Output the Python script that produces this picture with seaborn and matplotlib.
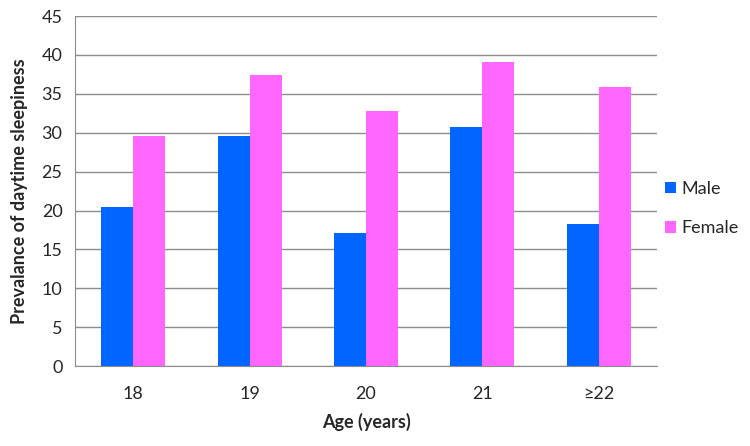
import pandas as pd
import seaborn as sns
import matplotlib.pyplot as plt

# Data
ages = ['18', '19', '20', '21', '≥22']
male = [20.5, 29.6, 17.1, 30.7, 18.3]
female = [29.6, 37.4, 32.8, 39.1, 35.9]

df = pd.DataFrame({'age': ages * 2,
                   'sex': ['Male'] * len(ages) + ['Female'] * len(ages),
                   'value': male + female})

sns.set_style('white')
plt.rcParams['font.family'] = ['Lato', 'DejaVu Sans']

fig = plt.figure(figsize=(7.5, 4.46), dpi=100)
ax = fig.add_axes([0.1, 0.179, 0.776, 0.785])

sns.barplot(data=df, x='age', y='value', hue='sex', order=ages,
            palette={'Male': '#0066ff', 'Female': '#ff66ff'},
            width=0.55, saturation=1, linewidth=0, ax=ax, zorder=3)

ax.set_ylim(0, 45)
ax.set_yticks(range(0, 46, 5))
ax.yaxis.grid(True, color='#8c8c8c', linewidth=1, zorder=0)
ax.set_axisbelow(True)
ax.tick_params(axis='y', length=5, color='#8c8c8c', labelsize=13, pad=4)
ax.tick_params(axis='x', length=0, labelsize=13, pad=14)
for s in ['top', 'right']:
    ax.spines[s].set_visible(False)
for s in ['left', 'bottom']:
    ax.spines[s].set_color('#8c8c8c')

ax.set_xlabel('Age (years)', fontsize=13, fontweight='bold', labelpad=8)
ax.set_ylabel('Prevalance of daytime sleepiness', fontsize=13, fontweight='bold', labelpad=10)

ax.legend(title=None, frameon=False, loc='center left', bbox_to_anchor=(0.995, 0.45),
          fontsize=13, handlelength=0.6, handleheight=0.6, labelspacing=1.3,
          handletextpad=0.3, borderaxespad=0.2)

fig.savefig('out.png', dpi=100)
